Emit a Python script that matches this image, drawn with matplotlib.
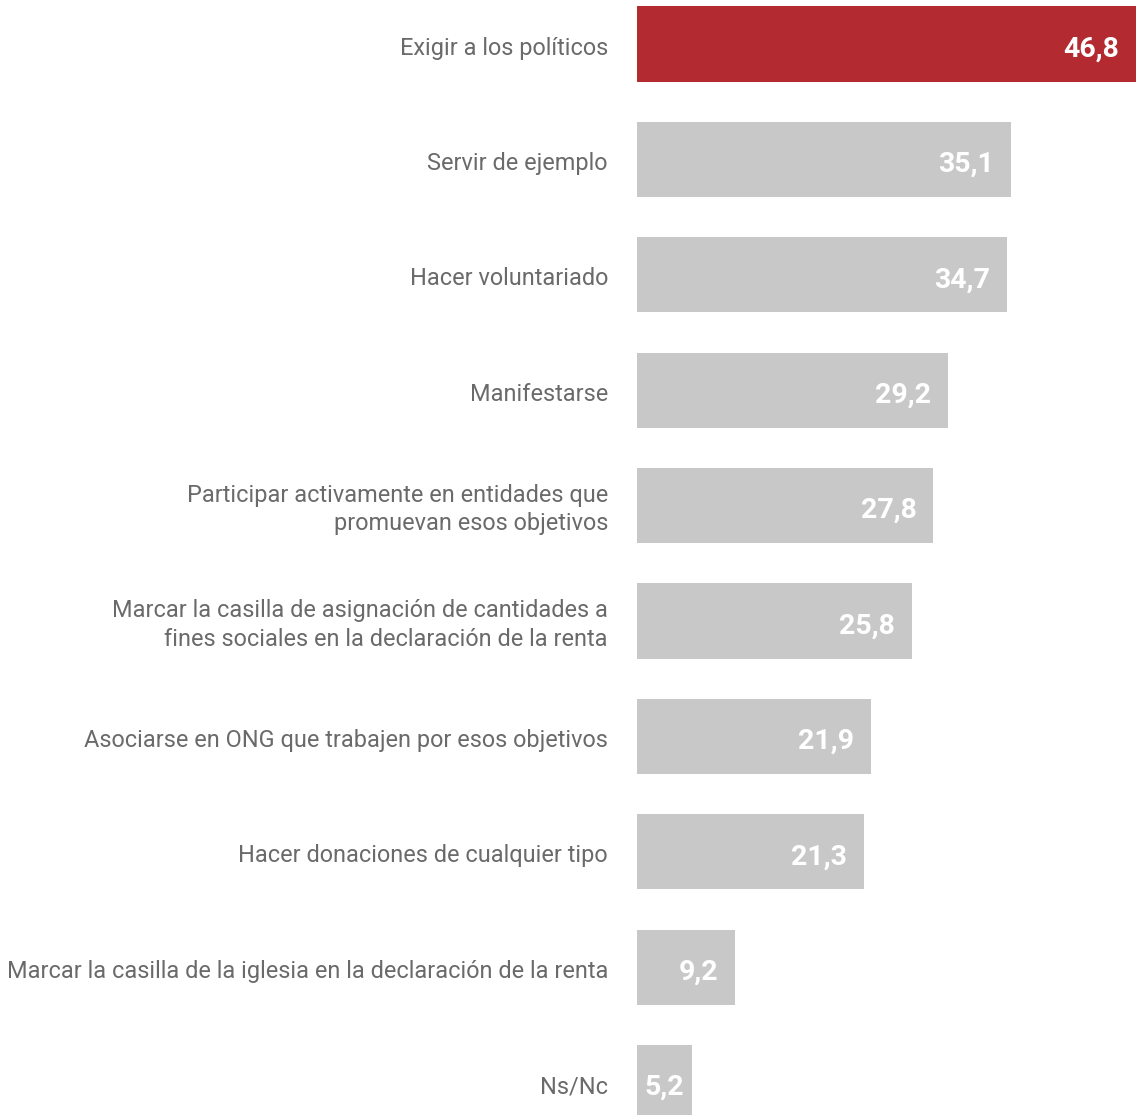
import matplotlib.pyplot as plt
from matplotlib.transforms import offset_copy, blended_transform_factory

categories = [
    'Exigir a los políticos',
    'Servir de ejemplo',
    'Hacer voluntariado',
    'Manifestarse',
    'Participar activamente en entidades que\npromuevan esos objetivos',
    'Marcar la casilla de asignación de cantidades a\nfines sociales en la declaración de la renta',
    'Asociarse en ONG que trabajen por esos objetivos',
    'Hacer donaciones de cualquier tipo',
    'Marcar la casilla de la iglesia en la declaración de la renta',
    'Ns/Nc',
]
values = [46.8, 35.1, 34.7, 29.2, 27.8, 25.8, 21.9, 21.3, 9.2, 5.2]
value_labels = ['46,8', '35,1', '34,7', '29,2', '27,8', '25,8', '21,9', '21,3', '9,2', '5,2']

RED = '#b32a30'
GREY = '#c8c8c8'

W, H = 1136, 1115
fig = plt.figure(figsize=(W / 100, H / 100), dpi=100)
ax = fig.add_axes([637 / W, 0, 1 - 637 / W, 1])

colors = [RED] + [GREY] * (len(values) - 1)
ypos = list(range(len(values)))
ax.barh(ypos, values, height=0.65, color=colors, edgecolor='none')

ax.set_xlim(0, max(values))
step = 115.4
ax.set_ylim((H - 44) / step, -44 / step)
ax.set_xticks([])
ax.set_yticks([])
for s in ax.spines.values():
    s.set_visible(False)

# category labels, right aligned left of the bars
lab_tr = offset_copy(blended_transform_factory(ax.transAxes, ax.transData),
                     fig=fig, x=-29, y=-4, units='dots')
for y, cat in zip(ypos, categories):
    ax.text(0, y, cat, transform=lab_tr, ha='right', va='center',
            multialignment='right', fontsize=16.9, color='#6a6a6a',
            fontfamily='Roboto', linespacing=1.3)

# value labels inside the bar end
px_per_unit = (W - 637) / max(values)
for y, v, lab in zip(ypos, values, value_labels):
    if v * px_per_unit > 70:
        tr = offset_copy(ax.transData, fig=fig, x=-17, y=-5, units='dots')
        ha, x = 'right', v
    else:
        tr = offset_copy(ax.transData, fig=fig, x=8, y=-5, units='dots')
        ha, x = 'left', 0
    ax.text(x, y, lab, transform=tr, ha=ha, va='center',
            fontsize=20.5, fontweight='bold', color='white', fontfamily='Roboto')

fig.savefig('out.png', dpi=100)
